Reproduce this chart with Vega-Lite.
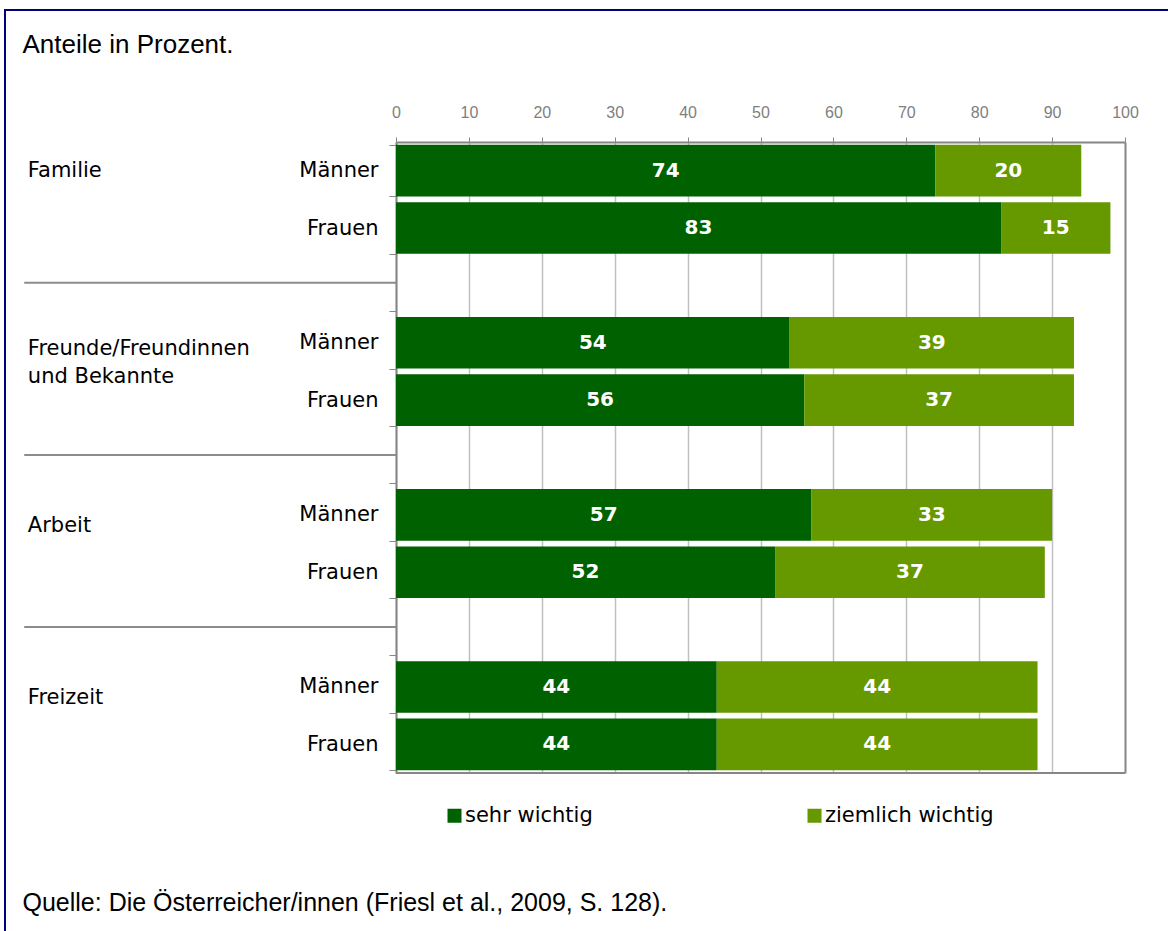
{
  "$schema": "https://vega.github.io/schema/vega-lite/v6.json",
  "width": 1168,
  "height": 931,
  "autosize": {"type": "fit", "contains": "padding"},
  "padding": {"left": 5, "top": -1, "right": -4, "bottom": -4},
  "background": "white",
  "config": {
    "view": {"stroke": "#000080", "strokeWidth": 2},
    "font": "DejaVu Sans"
  },
  "datasets": {
    "bars": [
      {"group": "Familie", "sex": "Männer", "row": "Familie – Männer", "level": "sehr wichtig", "value": 74},
      {"group": "Familie", "sex": "Männer", "row": "Familie – Männer", "level": "ziemlich wichtig", "value": 20},
      {"group": "Familie", "sex": "Frauen", "row": "Familie – Frauen", "level": "sehr wichtig", "value": 83},
      {"group": "Familie", "sex": "Frauen", "row": "Familie – Frauen", "level": "ziemlich wichtig", "value": 15},
      {"group": "Freunde", "sex": "Männer", "row": "Freunde – Männer", "level": "sehr wichtig", "value": 54},
      {"group": "Freunde", "sex": "Männer", "row": "Freunde – Männer", "level": "ziemlich wichtig", "value": 39},
      {"group": "Freunde", "sex": "Frauen", "row": "Freunde – Frauen", "level": "sehr wichtig", "value": 56},
      {"group": "Freunde", "sex": "Frauen", "row": "Freunde – Frauen", "level": "ziemlich wichtig", "value": 37},
      {"group": "Arbeit", "sex": "Männer", "row": "Arbeit – Männer", "level": "sehr wichtig", "value": 57},
      {"group": "Arbeit", "sex": "Männer", "row": "Arbeit – Männer", "level": "ziemlich wichtig", "value": 33},
      {"group": "Arbeit", "sex": "Frauen", "row": "Arbeit – Frauen", "level": "sehr wichtig", "value": 52},
      {"group": "Arbeit", "sex": "Frauen", "row": "Arbeit – Frauen", "level": "ziemlich wichtig", "value": 37},
      {"group": "Freizeit", "sex": "Männer", "row": "Freizeit – Männer", "level": "sehr wichtig", "value": 44},
      {"group": "Freizeit", "sex": "Männer", "row": "Freizeit – Männer", "level": "ziemlich wichtig", "value": 44},
      {"group": "Freizeit", "sex": "Frauen", "row": "Freizeit – Frauen", "level": "sehr wichtig", "value": 44},
      {"group": "Freizeit", "sex": "Frauen", "row": "Freizeit – Frauen", "level": "ziemlich wichtig", "value": 44}
    ],
    "groups": [
      {"label": "Familie", "row": "Familie – Männer"},
      {"label": "Freunde/Freundinnen\nund Bekannte", "row": "Freunde – Männer"},
      {"label": "Arbeit", "row": "Arbeit – Männer"},
      {"label": "Freizeit", "row": "Freizeit – Männer"}
    ],
    "gaps": [
      {"row": "gap1"},
      {"row": "gap2"},
      {"row": "gap3"}
    ],
    "one": [{}]
  },
  "layer": [
    {
      "data": {"name": "bars"},
      "mark": {"type": "bar", "strokeWidth": 0},
      "encoding": {
        "x": {
          "field": "value",
          "type": "quantitative",
          "stack": "zero",
          "scale": {"domain": [0, 100], "range": [391, 1120], "nice": false, "zero": false},
          "axis": {
            "orient": "top",
            "offset": -132,
            "values": [0, 10, 20, 30, 40, 50, 60, 70, 80, 90, 100],
            "domain": true,
            "domainColor": "#868686",
            "domainWidth": 2,
            "ticks": true,
            "tickSize": 5,
            "tickColor": "#868686",
            "tickWidth": 1,
            "labelFont": "Liberation Sans",
            "labelFontSize": 16,
            "labelColor": "#808080",
            "labelPadding": 17,
            "labelFlush": false,
            "labelOverlap": false,
            "grid": true,
            "gridColor": {"condition": {"test": "datum.value === 100", "value": "#868686"}, "value": "#c0c0c0"},
            "gridWidth": {"condition": {"test": "datum.value === 100", "value": 2}, "value": 1.5},
            "title": "Anteile in Prozent.",
            "titleX": 17,
            "titleY": -90,
            "titleAlign": "left",
            "titleBaseline": "alphabetic",
            "titleAngle": 0,
            "titleFont": "Liberation Sans",
            "titleFontSize": 26,
            "titleFontWeight": "normal",
            "titleColor": "#000000"
          }
        },
        "y": {
          "field": "row",
          "type": "nominal",
          "scale": {
            "domain": ["Familie – Männer", "Familie – Frauen", "gap1", "Freunde – Männer", "Freunde – Frauen", "gap2", "Arbeit – Männer", "Arbeit – Frauen", "gap3", "Freizeit – Männer", "Freizeit – Frauen"],
            "range": [132, 763],
            "paddingInner": 0.1,
            "paddingOuter": 0.05
          },
          "axis": {
            "orient": "left",
            "offset": -391,
            "domain": true,
            "domainColor": "#868686",
            "domainWidth": 2,
            "ticks": true,
            "tickBand": "extent",
            "tickSize": 7,
            "tickColor": "#868686",
            "tickWidth": 1,
            "labelExpr": "indexof('' + datum.value, 'Männer') >= 0 ? 'Männer' : (indexof('' + datum.value, 'Frauen') >= 0 ? 'Frauen' : '')",
            "labelFont": "DejaVu Sans",
            "labelFontSize": 21,
            "labelColor": "#000000",
            "labelPadding": 11,
            "grid": false,
            "title": "Quelle: Die Österreicher/innen (Friesl et al., 2009, S. 128).",
            "titleX": -374,
            "titleY": 900,
            "titleAlign": "left",
            "titleBaseline": "alphabetic",
            "titleAngle": 0,
            "titleFont": "Liberation Sans",
            "titleFontSize": 25,
            "titleFontWeight": "normal",
            "titleColor": "#000000"
          }
        },
        "color": {
          "field": "level",
          "type": "nominal",
          "scale": {"domain": ["sehr wichtig", "ziemlich wichtig"], "range": ["#006100", "#669900"]},
          "legend": {
            "orient": "none",
            "legendX": 439,
            "legendY": 795,
            "direction": "horizontal",
            "title": null,
            "padding": 0,
            "symbolType": "square",
            "symbolSize": 196,
            "symbolStrokeWidth": 0,
            "symbolOpacity": 1,
            "labelFont": "DejaVu Sans",
            "labelFontSize": 21,
            "labelColor": "#000000",
            "labelOffset": 0,
            "labelLimit": 400,
            "columnPadding": 211
          }
        },
        "order": {"field": "level", "type": "ordinal"}
      }
    },
    {
      "data": {"name": "bars"},
      "mark": {"type": "text", "color": "white", "font": "DejaVu Sans", "fontSize": 20, "fontWeight": "bold", "align": "center", "baseline": "middle"},
      "encoding": {
        "x": {"field": "value", "type": "quantitative", "stack": "zero", "bandPosition": 0.5},
        "y": {"field": "row", "type": "nominal"},
        "detail": {"field": "level", "type": "nominal"},
        "order": {"field": "level", "type": "ordinal"},
        "text": {"field": "value", "type": "quantitative"}
      }
    },
    {
      "data": {"name": "groups"},
      "transform": [{"filter": "datum.label === 'Familie'"}],
      "mark": {"type": "text", "font": "DejaVu Sans", "fontSize": 21, "color": "#000000", "align": "left", "baseline": "middle"},
      "encoding": {
        "x": {"datum": -50.5, "type": "quantitative"},
        "y": {"field": "row", "type": "nominal", "bandPosition": 0.5},
        "text": {"field": "label"}
      }
    },
    {
      "data": {"name": "groups"},
      "transform": [{"filter": "indexof(datum.label, 'Freunde') === 0"}],
      "mark": {"type": "text", "font": "DejaVu Sans", "fontSize": 21, "color": "#000000", "align": "left", "baseline": "middle", "lineBreak": "\n", "lineHeight": 28},
      "encoding": {
        "x": {"datum": -50.5, "type": "quantitative"},
        "y": {"field": "row", "type": "nominal", "bandPosition": 0.62},
        "text": {"field": "label"}
      }
    },
    {
      "data": {"name": "groups"},
      "transform": [{"filter": "datum.label === 'Arbeit' || datum.label === 'Freizeit'"}],
      "mark": {"type": "text", "font": "DejaVu Sans", "fontSize": 21, "color": "#000000", "align": "left", "baseline": "middle"},
      "encoding": {
        "x": {"datum": -50.5, "type": "quantitative"},
        "y": {"field": "row", "type": "nominal", "bandPosition": 0.72},
        "text": {"field": "label"}
      }
    },
    {
      "data": {"name": "gaps"},
      "mark": {"type": "rule", "color": "#8c8c8c", "strokeWidth": 2},
      "encoding": {
        "x": {"datum": -51, "type": "quantitative"},
        "x2": {"datum": 0},
        "y": {"field": "row", "type": "nominal", "bandPosition": 0.45}
      }
    },
    {
      "data": {"name": "one"},
      "mark": {"type": "rule", "color": "#868686", "strokeWidth": 2},
      "encoding": {
        "x": {"datum": 0, "type": "quantitative"},
        "x2": {"datum": 100},
        "y": {"datum": "Freizeit – Frauen", "type": "nominal", "bandPosition": 1.056}
      }
    }
  ]
}
